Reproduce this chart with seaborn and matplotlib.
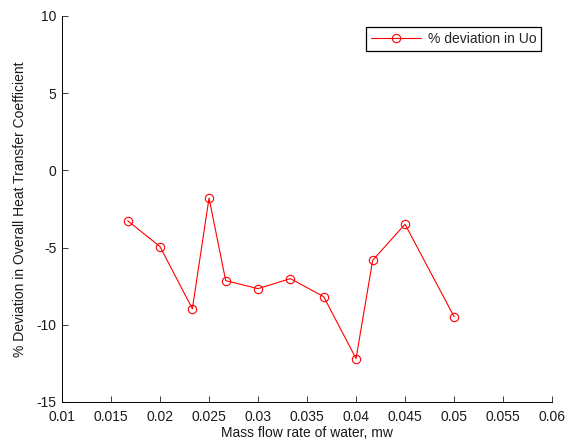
import numpy as np
import pandas as pd
import matplotlib
matplotlib.use('Agg')
import matplotlib.pyplot as plt
import seaborn as sns

# mass flow rate of water and % deviation in Uo
mass_flow = [0.0167, 0.02, 0.0233, 0.025, 0.0267, 0.03, 0.0333, 0.0367, 0.04, 0.0417, 0.045, 0.05]
deviation = [-3.26, -4.94, -8.96, -1.79, -7.14, -7.66, -7.01, -8.18, -12.19, -5.82, -3.49, -9.47]

x_ticks = [0.01, 0.015, 0.02, 0.025, 0.03, 0.035, 0.04, 0.045, 0.05, 0.055, 0.06]
x_tick_labels = ['0.01', '0.015', '0.02', '0.025', '0.03', '0.035', '0.04', '0.045', '0.05', '0.055', '0.06']
y_ticks = [-15, -10, -5, 0, 5, 10]

df = pd.DataFrame({'mw': mass_flow, 'dev': deviation})

sns.set_style('white')
plt.rcParams['font.family'] = ['Liberation Sans', 'DejaVu Sans']
plt.rcParams['font.size'] = 10
plt.rcParams['axes.unicode_minus'] = False

fig = plt.figure(figsize=(5.78, 4.43), dpi=100)
ax = fig.add_axes([0.1073, 0.0926, 0.8478, 0.8713])

sns.lineplot(data=df, x='mw', y='dev', ax=ax, color='red', linewidth=0.8,
             marker='o', markersize=6, markerfacecolor='none',
             markeredgecolor='red', markeredgewidth=0.8,
             label='% deviation in Uo')

ax.set_xlim(0.01, 0.06)
ax.set_ylim(-15, 10)
ax.set_xticks(x_ticks)
ax.set_xticklabels(x_tick_labels)
ax.set_yticks(y_ticks)
ax.tick_params(direction='in', length=4, width=0.6, labelsize=10, colors='#1a1a1a',
               bottom=True, left=True, top=False, right=False)
ax.tick_params(axis='y', pad=4)
ax.tick_params(axis='x', pad=6)
ax.spines['top'].set_visible(False)
ax.spines['right'].set_visible(False)
for s in ['left', 'bottom']:
    ax.spines[s].set_color('black')
    ax.spines[s].set_linewidth(0.7)

ax.set_xlabel('Mass flow rate of water, mw', fontsize=10, labelpad=1, color='#1a1a1a')
ax.set_ylabel('% Deviation in Overall Heat Transfer Coefficient', fontsize=10, labelpad=7, color='#1a1a1a')

leg = ax.legend(loc='upper right', bbox_to_anchor=(0.9776, 0.9715), borderaxespad=0,
                fancybox=False, framealpha=1, edgecolor='black', fontsize=10,
                handlelength=3.6, handletextpad=0.45, borderpad=0.35)
leg.get_frame().set_linewidth(0.9)

fig.savefig('out.png', dpi=100)
